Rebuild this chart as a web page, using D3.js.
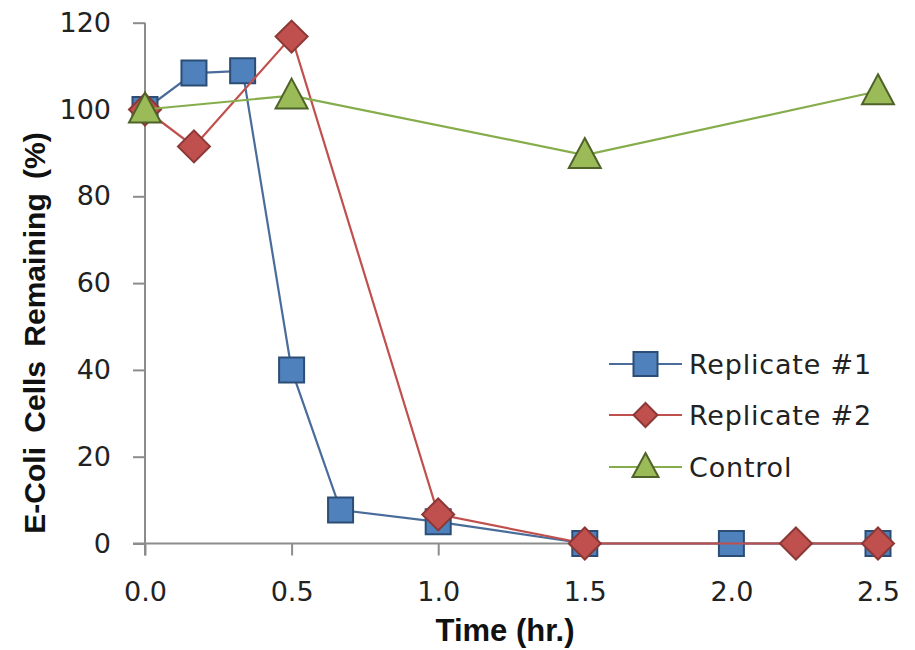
<!DOCTYPE html>
<html>
<head>
<meta charset="utf-8">
<script src="https://cdn.jsdelivr.net/npm/d3@7"></script>
<style>
  body { margin: 0; background: #fff; }
  svg { display: block; }
</style>
</head>
<body>
<svg id="chart" width="915" height="650"></svg>
<script>
// ---- data ----
const rep1Time = [0, 0.167, 0.333, 0.5, 0.667, 1.0, 1.5, 2.0, 2.5];
const rep1Vals = [100, 108.4, 108.9, 40, 7.7, 5.0, 0, 0, 0];
const rep2Time = [0, 0.167, 0.5, 1.0, 1.5, 2.22, 2.5];
const rep2Vals = [100, 91.5, 116.8, 6.7, 0, 0, 0];
const ctrlTime = [0, 0.5, 1.5, 2.5];
const ctrlVals = [100, 103.2, 89.5, 104.2];
const seriesNames = ["Replicate #1", "Replicate #2", "Control"];
const xTicks = [0, 0.5, 1.0, 1.5, 2.0, 2.5];
const yTicks = [0, 20, 40, 60, 80, 100, 120];
const xTitle = "Time (hr.)";
const yTitle = "E-Coli Cells Remaining (%)";

// ---- layout ----
const svg = d3.select("#chart");
const x = d3.scaleLinear().domain([0, 2.5]).range([145, 878]);
const y = d3.scaleLinear().domain([0, 120]).range([543.5, 22.7]);

const styles = [
  { line: "#4A6C9B", fill: "#4F81BD", stroke: "#2C4D75", shape: "square" },
  { line: "#C0504D", fill: "#C0504D", stroke: "#8C3836", shape: "diamond" },
  { line: "#86AD4C", fill: "#9BBB59", stroke: "#4F6228", shape: "triangle" }
];

function markerPath(shape, s) {
  const h = s / 2;
  if (shape === "square") {
    return `M${-h},${-h}H${h}V${h}H${-h}Z`;
  } else if (shape === "diamond") {
    return `M0,${-h}L${h},0L0,${h}L${-h},0Z`;
  } else {
    return `M0,${-h - 1}L${h},${h - 3}L${-h},${h - 3}Z`;
  }
}
const plotSizes = { square: 25, diamond: 32, triangle: 32 };
const legendSizes = { square: 24, diamond: 24, triangle: 26 };

// ---- axes ----
const axisColor = "#8C8C8C";
const fontTick = "DejaVu Sans, sans-serif";

const yAxis = d3.axisLeft(y).tickValues(yTicks).tickSize(12).tickSizeOuter(0).tickPadding(22)
  .tickFormat(d3.format("d"));
const gy = svg.append("g").attr("transform", "translate(145,0)").call(yAxis);

const xAxis = d3.axisBottom(x).tickValues(xTicks).tickSize(12).tickSizeOuter(0).tickPadding(26)
  .tickFormat(d3.format(".1f"));
const gx = svg.append("g").attr("transform", "translate(0,543.5)").call(xAxis);

[gx, gy].forEach(g => {
  g.select(".domain").attr("stroke", axisColor).attr("stroke-width", 2);
  g.selectAll(".tick line").attr("stroke", axisColor).attr("stroke-width", 2);
  g.selectAll(".tick text").attr("fill", "#222").style("font-family", fontTick).style("font-size", "27px");
});
gx.select(".domain").attr("d", `M133,0H878`);
gy.select(".domain").attr("d", `M0,22.7V555.5`);

// titles
svg.append("text")
  .attr("x", 505).attr("y", 641)
  .attr("text-anchor", "middle")
  .style("font-family", "Liberation Sans, Arial, sans-serif")
  .style("font-weight", "bold").style("font-size", "31px").attr("fill", "#111")
  .text(xTitle);

svg.append("text")
  .attr("transform", "translate(45,333) rotate(-90)")
  .attr("text-anchor", "middle")
  .style("font-family", "Liberation Sans, Arial, sans-serif")
  .style("font-weight", "bold").style("font-size", "30px").attr("fill", "#111")
  .style("word-spacing", "6px")
  .text(yTitle);

// ---- series ----
const seriesData = [
  rep1Time.map((t, i) => [t, rep1Vals[i]]),
  rep2Time.map((t, i) => [t, rep2Vals[i]]),
  ctrlTime.map((t, i) => [t, ctrlVals[i]])
];
const line = d3.line().x(d => x(d[0])).y(d => y(d[1]));

seriesData.forEach((data, si) => {
  const st = styles[si];
  const g = svg.append("g");
  g.append("path").datum(data).attr("d", line)
    .attr("fill", "none").attr("stroke", st.line).attr("stroke-width", 2.2);
  g.selectAll("path.mk").data(data).join("path").attr("class", "mk")
    .attr("transform", d => `translate(${x(d[0])},${y(d[1])})`)
    .attr("d", markerPath(st.shape, plotSizes[st.shape]))
    .attr("fill", st.fill).attr("stroke", st.stroke).attr("stroke-width", 2)
    .attr("stroke-linejoin", "miter");
});

// ---- legend ----
const legendRows = [364, 415, 467];
seriesNames.forEach((name, i) => {
  const st = styles[i];
  const g = svg.append("g").attr("transform", `translate(0,${legendRows[i]})`);
  g.append("line").attr("x1", 609).attr("x2", 682).attr("y1", 0).attr("y2", 0)
    .attr("stroke", st.line).attr("stroke-width", 2.2);
  g.append("path").attr("transform", "translate(645.5,0)")
    .attr("d", markerPath(st.shape, legendSizes[st.shape]))
    .attr("fill", st.fill).attr("stroke", st.stroke).attr("stroke-width", 2);
  g.append("text").attr("x", 689).attr("y", 10)
    .style("font-family", fontTick).style("font-size", "27px").attr("fill", "#222")
    .style("letter-spacing", "0.8px")
    .text(name);
});
</script>
</body>
</html>
